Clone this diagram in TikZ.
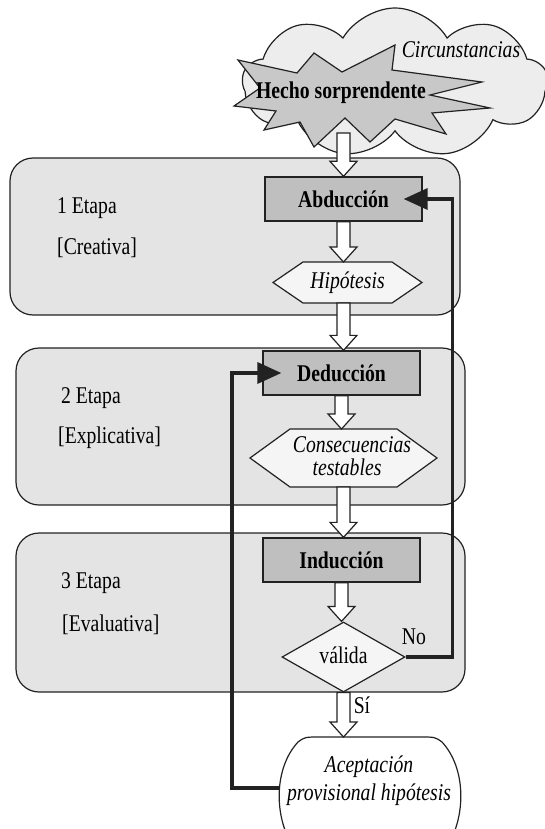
\documentclass[tikz,border=0pt]{standalone}
\usepackage{fontspec}
\setmainfont[FakeStretch=0.82]{Liberation Serif}
\usetikzlibrary{shapes.geometric,shapes.symbols,arrows.meta,calc}
\definecolor{stagefill}{HTML}{E4E4E4}
\definecolor{boxfill}{HTML}{BFBFBF}
\definecolor{burstfill}{HTML}{C8C8C8}
\definecolor{cloudfill}{HTML}{EDEDED}
\definecolor{hexfill}{HTML}{F5F5F5}
\definecolor{linegray}{HTML}{222222}
\newcommand\blockarrow[2]{%
  \draw[barrowsty] let \p1=(#1), \p2=(#2) in
    (\x1-6.5pt,\y1) -- (\x1+6.5pt,\y1) -- (\x1+6.5pt,\y2+15pt) -- (\x1+13.5pt,\y2+15pt)
    -- (\x1,\y2) -- (\x1-13.5pt,\y2+15pt) -- (\x1-6.5pt,\y2+15pt) -- cycle;}
\begin{document}
\begin{tikzpicture}[x=1pt,y=-1pt,
  tx/.style={font=\fontsize{24}{24}\selectfont},
  txi/.style={font=\fontsize{24}{24}\selectfont\itshape},
  txb/.style={font=\fontsize{24}{24}\selectfont\bfseries},
  stagebox/.style={draw=linegray, line width=1.2pt, fill=stagefill, rounded corners=23pt, minimum width=#1, minimum height=157pt, inner sep=0pt},
  procbox/.style={draw=linegray, line width=1.3pt, fill=boxfill, minimum width=157pt, minimum height=44pt, inner sep=0pt, txb},
  hexsty/.style={draw=linegray, line width=1.2pt, fill=hexfill, line join=miter},
  lbl/.style={tx, anchor=west, inner sep=0pt},
  barrowsty/.style={draw=linegray, line width=1.2pt, fill=white, line join=miter},
  fb/.style={line width=3.5pt, draw=linegray, -{Triangle[length=24pt,width=21pt]}}
]
\useasboundingbox (0,0) rectangle (544,829);

% cloud and burst
\node[cloud, cloud puffs=9, cloud puff arc=120, aspect=2, draw=linegray, line width=1.2pt, fill=cloudfill, minimum width=305pt, minimum height=150pt] (cloud) at (395,83) {};
\node[txi] (circ) at (461,50) {Circunstancias};
\draw[draw=linegray, line width=1.2pt, fill=burstfill, line join=miter]
  (395,45) -- (392,70) -- (482,82) -- (430,95) -- (490,108) -- (432,113) -- (446,134)
  -- (395,119) -- (370,142) -- (345,118) -- (314,147) -- (300,122) -- (264,130) -- (276,111)
  -- (234,106) -- (260,88) -- (238,60) -- (297,73) -- (314,53) -- (342,72) -- cycle;
\node[txb] (hecho) at (341,93) {Hecho sorprendente};
\coordinate (burstbot) at (343.5,133);

% stages
\node[stagebox=450pt] (s1) at (235,236.5) {};
\node[stagebox=449pt] (s2) at (240.5,426.5) {};
\node[stagebox=449pt, minimum height=159pt] (s3) at (240.5,612.5) {};
\node[lbl] (l1a) at (57,208) {1 Etapa};
\node[lbl] (l1b) at (57,248) {[Creativa]};
\node[lbl] (l2a) at (61,398) {2 Etapa};
\node[lbl] (l2b) at (58,438) {[Explicativa]};
\node[lbl] (l3a) at (61,583) {3 Etapa};
\node[lbl] (l3b) at (62,625) {[Evaluativa]};

% process nodes
\node[procbox] (abd) at (343.5,199) {Abducción};
\draw[hexsty] (273,282.5) -- (303,262) -- (392,262) -- (422,282.5) -- (392,303) -- (303,303) -- cycle;
\node[txi] (hip) at (347.5,282.5) {Hipótesis};
\coordinate (hipN) at (343.5,262);
\coordinate (hipS) at (343.5,303);
\node[procbox] (ded) at (341.5,373) {Deducción};
\draw[hexsty] (250,458) -- (290,429) -- (397,429) -- (437,458) -- (397,487) -- (290,487) -- cycle;
\node[txi, align=center, inner sep=0pt] (con) at (347,456) {\hspace*{10pt}Consecuencias\\[-1pt]testables};
\coordinate (conN) at (343.5,429);
\coordinate (conS) at (343.5,487);
\node[procbox] (ind) at (341.5,560) {Inducción};
\node[diamond, aspect=1.76, draw=linegray, line width=1.2pt, fill=hexfill, minimum width=123pt, minimum height=70pt, inner sep=0pt, tx] (val) at (343.5,657) {\raisebox{3pt}{válida}};

% acceptance shape
\draw[draw=linegray, line width=1.2pt, fill=white]
  (292,845) .. controls (274,815) and (274,768) .. (298,742)
  .. controls (305,737) .. (320,737) -- (420,737)
  .. controls (435,737) .. (442,742)
  .. controls (466,768) and (466,815) .. (448,845);
\node[txi, align=center] (acc) at (369,781) {Aceptación\\[4pt]provisional hipótesis};
\coordinate (accw) at (280,788);
\coordinate (acctop) at (343.5,737);

% block arrows
\blockarrow{burstbot}{abd.north}
\blockarrow{abd.south}{hipN}
\blockarrow{hipS}{ded.north}
\blockarrow{ded.south}{conN}
\blockarrow{conS}{ind.north}
\blockarrow{ind.south}{val.north}
\blockarrow{val.south}{acctop}

% labels
\node[tx] (no) at (414,637) {No};
\node[tx] (si) at (362,705) {Sí};

% feedback lines
\draw[fb] (val.east) -- ++(47,0) |- ([xshift=-19pt]abd.east);
\draw[fb] (accw) -- ++(-48,0) |- ([xshift=19pt]ded.west);
\end{tikzpicture}
\end{document}
